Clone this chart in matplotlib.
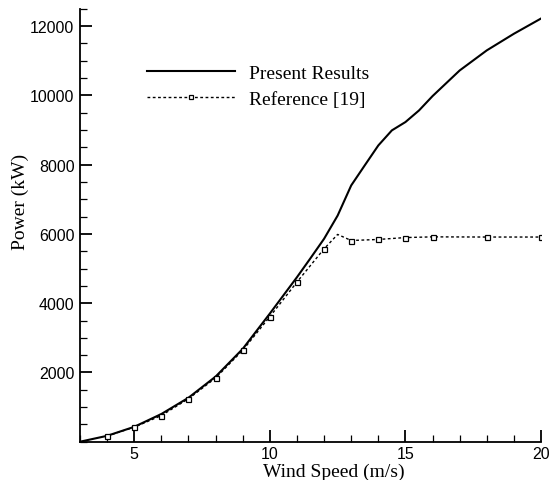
import matplotlib
matplotlib.use("Agg")
import matplotlib.pyplot as plt
from matplotlib.ticker import MultipleLocator

# Present Results (solid curve)
present_ws = [3, 4, 5, 6, 7, 8, 9, 10, 11, 11.5, 12, 12.5, 13, 13.5, 14, 14.5, 15, 15.5, 16, 17, 18, 19, 20]
present_pw = [0, 170, 430, 800, 1270, 1880, 2680, 3700, 4750, 5300, 5860, 6530, 7400, 7980, 8555, 8990, 9230, 9565, 9980, 10720, 11300, 11780, 12220]

# Reference [19] (dotted with square markers)
ref_ws = [4, 5, 6, 7, 8, 9, 10, 11, 12, 12.5, 13, 14, 15, 16, 18, 20]
ref_pw = [165, 420, 755, 1240, 1840, 2640, 3610, 4610, 5570, 5985, 5810, 5840, 5895, 5915, 5910, 5910]
ref_marked = [i for i, w in enumerate(ref_ws) if w != 12.5]

x_ticks = [5, 10, 15, 20]
y_ticks = [2000, 4000, 6000, 8000, 10000, 12000]

fig = plt.figure(figsize=(5.51, 4.81), dpi=100)
ax = fig.add_axes([0.1452, 0.0796, 0.8367, 0.9])

ax.plot(present_ws, present_pw, color="black", lw=1.5, label="Present Results")
ax.plot(ref_ws, ref_pw, color="black", lw=1.0, linestyle=(0, (2, 1.8)),
        marker="s", markersize=3.6, markerfacecolor="white", markeredgewidth=0.9,
        markevery=ref_marked, label="Reference [19]")

ax.set_xlim(3, 20)
ax.set_ylim(0, 12500)
ax.set_xticks(x_ticks)
ax.set_yticks(y_ticks)
ax.xaxis.set_minor_locator(MultipleLocator(1))
ax.yaxis.set_minor_locator(MultipleLocator(500))

for s in ["top", "right"]:
    ax.spines[s].set_visible(False)
for s in ["left", "bottom"]:
    ax.spines[s].set_linewidth(1.3)

ax.tick_params(which="major", direction="in", length=8.5, width=1.3,
               labelsize=11.5, labelfontfamily="Liberation Sans", pad=4)
ax.tick_params(axis="x", which="major", pad=3)
ax.tick_params(which="minor", direction="in", length=5, width=0.9)

ax.set_xlabel("Wind Speed (m/s)", fontfamily="Liberation Serif", fontsize=14)
ax.set_ylabel("Power (kW)", fontfamily="Liberation Serif", fontsize=14)
ax.xaxis.set_label_coords(0.55, -0.049)
ax.yaxis.set_label_coords(-0.111, 0.556)

leg = ax.legend(loc="upper left", bbox_to_anchor=(0.145, 0.871), frameon=False,
                prop={"family": "Liberation Serif", "size": 14},
                handlelength=4.55, handletextpad=0.72, labelspacing=0.4,
                borderpad=0, borderaxespad=0, markerscale=0.9)

fig.savefig("out.png", dpi=100)
